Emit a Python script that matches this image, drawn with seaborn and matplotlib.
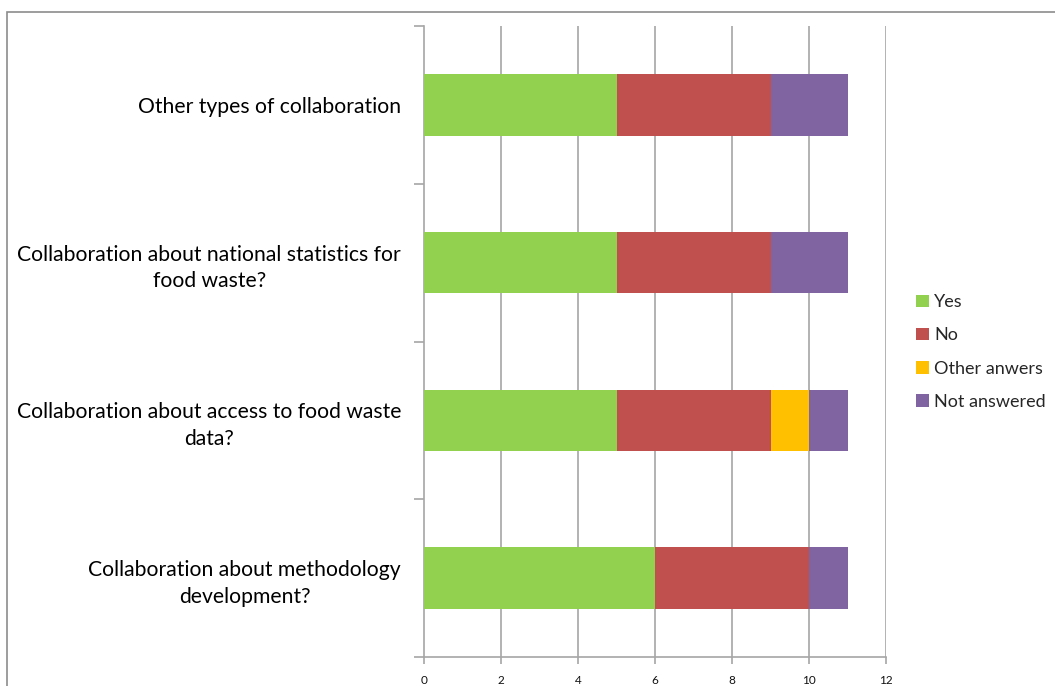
import matplotlib
matplotlib.use("Agg")
import matplotlib.pyplot as plt
import matplotlib.patches as mpatches
import numpy as np
import pandas as pd
import seaborn as sns

# Survey answers per collaboration topic
categories = [
    "Other types of collaboration",
    "Collaboration about national statistics for\nfood waste?",
    "Collaboration about access to food waste\ndata?",
    "Collaboration about methodology\ndevelopment?",
]
series_names = ["Yes", "No", "Other anwers", "Not answered"]
yes = [5, 5, 5, 6]
no = [4, 4, 4, 4]
other = [0, 0, 1, 0]
not_answered = [2, 2, 1, 1]
x_ticks = [0, 2, 4, 6, 8, 10, 12]

colors = ["#92D050", "#C0504D", "#FFC000", "#8064A2"]

sns.set_theme(style="white")
plt.rcParams["font.family"] = ["Lato", "DejaVu Sans"]

fig = plt.figure(figsize=(10.55, 6.86), dpi=100)
ax = fig.add_axes([424 / 1055, 1 - 657 / 686, 462 / 1055, 631 / 686])

# outer frame (top and left edges visible)
fig.patches.append(mpatches.Rectangle((7 / 1055, -0.1), 1.2, 1 - 12 / 686 + 0.1,
                                      transform=fig.transFigure, fill=False,
                                      edgecolor="#8c8c8c", linewidth=1.2, zorder=0))

df = pd.DataFrame({"category": categories, "Yes": yes, "No": no,
                   "Other anwers": other, "Not answered": not_answered})
cum = df[series_names].cumsum(axis=1)

# stacked bars: draw cumulative totals from outermost segment inward
for name, col in reversed(list(zip(series_names, colors))):
    sns.barplot(x=cum[name], y=df["category"], orient="h", color=col,
                width=0.39, ax=ax, saturation=1, linewidth=0, zorder=3)

ax.set_xlim(0, 12)
ax.set_ylim(3.5, -0.5)
ax.set_xticks(x_ticks)
ax.set_xticklabels([str(v) for v in x_ticks], fontsize=8.5, color="#111111")
ax.set_xlabel("")
ax.set_ylabel("")

# vertical gridlines
for v in x_ticks[1:]:
    ax.axvline(v, color="#a6a6a6", linewidth=1.2, zorder=1)

# category labels, centered multi-line
ax.set_yticks(range(len(categories)))
ax.set_yticklabels(categories, fontsize=15.2, color="#000000",
                   multialignment="center", linespacing=1.4)
ax.tick_params(axis="y", which="major", length=0, pad=16.5)
ax.set_yticks(np.arange(-0.5, len(categories), 1.0), minor=True)
ax.tick_params(axis="y", which="minor", length=7, width=1.2, color="#a6a6a6", left=True)
ax.tick_params(axis="x", which="major", length=5, width=1.2, color="#a6a6a6",
               bottom=True, pad=8)

for s in ["top", "right"]:
    ax.spines[s].set_visible(False)
for s in ["left", "bottom"]:
    ax.spines[s].set_color("#a6a6a6")
    ax.spines[s].set_linewidth(1.2)

handles = [mpatches.Patch(facecolor=c, edgecolor="none", label=n)
           for n, c in zip(series_names, colors)]
fig.legend(handles=handles, loc="center left", bbox_to_anchor=(900 / 1055, 1 - 352 / 686),
           frameon=False, fontsize=13, handlelength=0.7, handleheight=0.7,
           handletextpad=0.3, labelspacing=0.95)

fig.savefig("out.png", dpi=100)
